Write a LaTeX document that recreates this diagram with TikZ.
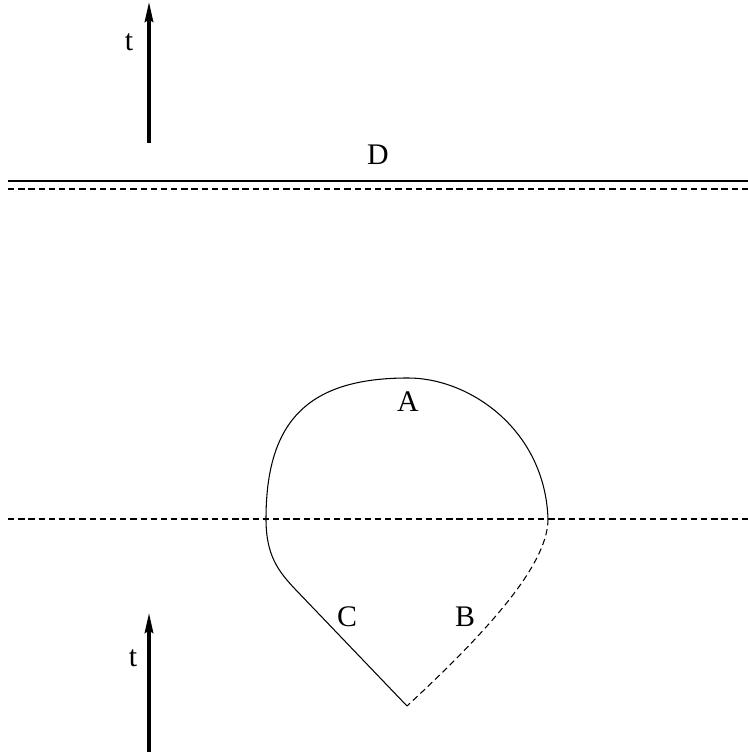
\documentclass[tikz,border=0pt]{standalone}
\usepackage{fontspec}
\setmainfont{Liberation Serif}
\usepackage{tikz}
\usetikzlibrary{arrows.meta,positioning,calc}
\tikzset{
  lbl/.style={inner sep=0pt, font=\fontsize{17}{20}\selectfont},
  timearrow/.style={-{Stealth[length=4mm,width=1.7mm,inset=0.5mm]}, line width=1.8pt},
  edge/.style={line width=0.6pt},
  dashedge/.style={line width=0.6pt, dash pattern=on 3.6pt off 2.2pt}
}
\begin{document}
\begin{tikzpicture}[x=1cm,y=1cm]
  \useasboundingbox (0,0) rectangle (14.96,15.1);
  % time arrows
  \coordinate (ttop0) at (2.98,12.24);
  \coordinate (ttop1) at (2.98,15.06);
  \coordinate (tbot0) at (2.98,0.06);
  \coordinate (tbot1) at (2.98,2.84);
  \draw[timearrow] (ttop0) -- (ttop1);
  \draw[timearrow] (tbot0) -- (tbot1);
  \node[lbl] (ttoplbl) at (2.58,14.26) {t};
  \node[lbl] (tbotlbl) at (2.66,1.94) {t};
  % horizontal lines
  \coordinate (dl) at (0.16,11.48);
  \coordinate (dr) at (14.96,11.48);
  \coordinate (el) at (0.16,11.32);
  \coordinate (er) at (14.96,11.32);
  \coordinate (ml) at (0.16,4.72);
  \coordinate (mr) at (14.96,4.72);
  \draw[edge] (dl) -- (dr);
  \draw[dashedge] (el) -- (er);
  \draw[dashedge] (ml) -- (mr);
  \node[lbl] (D) at (7.56,12.0) {D};
  % loop
  \coordinate (left) at (5.32,4.72);
  \coordinate (top) at (8.16,7.54);
  \coordinate (right) at (10.96,4.72);
  \coordinate (tip) at (8.14,0.98);
  \coordinate (knee) at (5.90,3.32);
  \draw[edge] (left) .. controls (5.32,6.70) and (6.18,7.54) .. (top)
    .. controls (9.40,7.54) and (10.90,6.50) .. (right);
  \draw[edge] (left) .. controls (5.32,4.00) and (5.56,3.68) .. (knee) -- (tip);
  \draw[dashedge] (right) .. controls (10.96,3.90) and (10.0,2.70) .. (tip);
  \node[lbl] (A) at (8.16,7.06) {A};
  \node[lbl] (C) at (6.94,2.76) {C};
  \node[lbl] (B) at (9.30,2.76) {B};
\end{tikzpicture}
\end{document}
